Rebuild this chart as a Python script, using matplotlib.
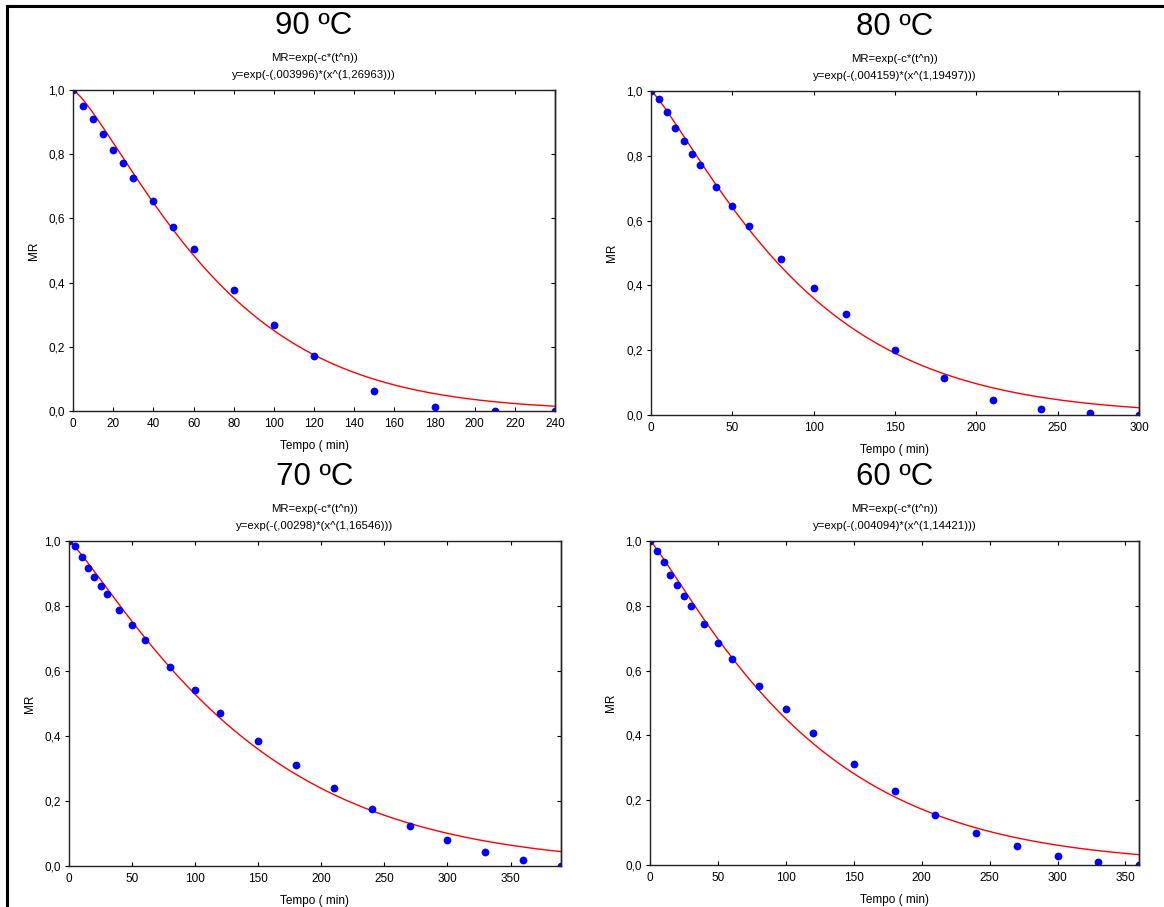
import numpy as np
import matplotlib.pyplot as plt
from matplotlib.lines import Line2D
from matplotlib.ticker import FuncFormatter, MultipleLocator

plt.rcParams['font.family'] = ['Liberation Sans', 'DejaVu Sans']

# drying temperatures and Page model fit parameters
temps = ['90 ºC', '80 ºC', '70 ºC', '60 ºC']
c_fit = [0.003996, 0.004159, 0.00298, 0.004094]
n_fit = [1.26963, 1.19497, 1.16546, 1.14421]
eq_labels = ['y=exp(-(,003996)*(x^(1,26963)))',
             'y=exp(-(,004159)*(x^(1,19497)))',
             'y=exp(-(,00298)*(x^(1,16546)))',
             'y=exp(-(,004094)*(x^(1,14421)))']

t90 = [0, 5, 10, 15, 20, 25, 30, 40, 50, 60, 80, 100, 120, 150, 180, 210, 240]
mr90 = [1.0, 0.950, 0.910, 0.862, 0.814, 0.774, 0.725, 0.654, 0.574, 0.504,
        0.377, 0.267, 0.171, 0.062, 0.011, 0.001, 0.0]

t80 = [0, 5, 10, 15, 20, 25, 30, 40, 50, 60, 80, 100, 120, 150, 180, 210,
       240, 270, 300]
mr80 = [1.0, 0.975, 0.934, 0.887, 0.846, 0.806, 0.772, 0.704, 0.645, 0.583,
        0.481, 0.392, 0.312, 0.201, 0.114, 0.046, 0.019, 0.006, 0.0]

t70 = [0, 5, 10, 15, 20, 25, 30, 40, 50, 60, 80, 100, 120, 150, 180, 210,
       240, 270, 300, 330, 360, 390]
mr70 = [1.0, 0.984, 0.952, 0.918, 0.888, 0.863, 0.837, 0.788, 0.741, 0.694,
        0.613, 0.542, 0.472, 0.386, 0.310, 0.240, 0.176, 0.123, 0.081,
        0.042, 0.018, 0.0]

t60 = [0, 5, 10, 15, 20, 25, 30, 40, 50, 60, 80, 100, 120, 150, 180, 210,
       240, 270, 300, 330, 360]
mr60 = [1.0, 0.969, 0.935, 0.895, 0.864, 0.830, 0.800, 0.744, 0.686, 0.637,
        0.553, 0.482, 0.408, 0.311, 0.227, 0.154, 0.099, 0.059, 0.028,
        0.010, 0.0]

times = [t90, t80, t70, t60]
ratios = [mr90, mr80, mr70, mr60]
x_max = [240, 300, 390, 360]
x_step = [20, 50, 50, 50]

# axes boxes (left, top, right, bottom) in pixels
W, H = 1164, 907
boxes_px = [(73, 90, 555, 411), (651, 91, 1139, 415),
            (69, 541, 561, 866), (650, 541, 1139, 865)]

fig = plt.figure(figsize=(W / 100, H / 100), dpi=100)

comma = FuncFormatter(lambda v, p: f'{v:.1f}'.replace('.', ','))
plain = FuncFormatter(lambda v, p: f'{v:g}')

for i in range(4):
    l, t, r, b = boxes_px[i]
    ax = fig.add_axes([l / W, 1 - b / H, (r - l) / W, (b - t) / H])

    xx = np.linspace(0, x_max[i], 400)
    ax.plot(xx, np.exp(-c_fit[i] * xx ** n_fit[i]), color='#ff0000', lw=1.0)
    ax.plot(times[i], ratios[i], 'o', color='#0000ff', ms=5.6, mec='none')

    ax.set_xlim(0, x_max[i])
    ax.set_ylim(0, 1)
    ax.xaxis.set_major_locator(MultipleLocator(x_step[i]))
    ax.yaxis.set_major_locator(MultipleLocator(0.2))
    ax.yaxis.set_major_formatter(comma)
    ax.xaxis.set_major_formatter(plain)
    ax.tick_params(axis='x', direction='in', top=True, length=3, width=0.8,
                   labelsize=8.5, pad=5)
    ax.tick_params(axis='y', direction='out', length=3, width=0.8,
                   labelsize=8.5, pad=3)

    # right side ticks point inward
    sec = ax.secondary_yaxis('right')
    sec.yaxis.set_major_locator(MultipleLocator(0.2))
    sec.tick_params(direction='in', length=3, width=0.8, labelright=False)

    for s in list(ax.spines.values()) + list(sec.spines.values()):
        s.set_linewidth(1.0)
        s.set_color('#222222')

    ax.set_xlabel('Tempo ( min)', fontsize=8.5, labelpad=7.5)
    ax.set_ylabel('MR', fontsize=8.5, labelpad=6)

    ax.annotate(temps[i], (0.5, 1), xycoords='axes fraction',
                xytext=(0, 46), textcoords='offset points',
                ha='center', va='center', fontsize=22.5)
    ax.annotate('MR=exp(-c*(t^n))', (0.5, 1), xycoords='axes fraction',
                xytext=(0, 23), textcoords='offset points',
                ha='center', va='center', fontsize=8.2)
    ax.annotate(eq_labels[i], (0.5, 1), xycoords='axes fraction',
                xytext=(0, 10.5), textcoords='offset points',
                ha='center', va='center', fontsize=8.2)

# page frame lines (left and top)
fig.add_artist(Line2D([7 / W, 7 / W], [0, 1 - 6 / H], color='black', lw=2.2))
fig.add_artist(Line2D([7 / W, 1], [1 - 6 / H, 1 - 6 / H], color='black', lw=2.2))

fig.savefig('out.png', dpi=100)
